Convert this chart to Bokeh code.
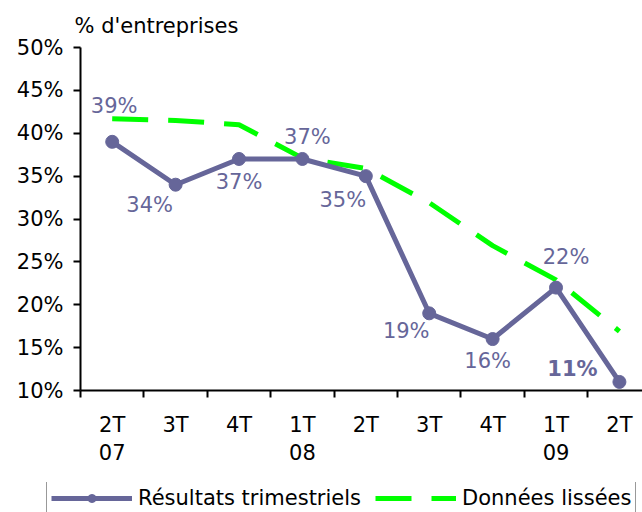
from bokeh.plotting import figure
from bokeh.layouts import column
from bokeh.models import (ColumnDataSource, Range1d, FixedTicker,
                          PrintfTickFormatter, Legend, LegendItem)
from bokeh.core.properties import value
from bokeh.embed import file_html
from bokeh.resources import INLINE

# Quarterly share of firms, and the smoothed series
quarters = ["2T\n07", "3T", "4T", "1T\n08", "2T", "3T", "4T", "1T\n09", "2T"]
results = [39, 34, 37, 37, 35, 19, 16, 22, 11]
smoothed = [41.7, 41.5, 41.0, 37.1, 35.9, 31.9, 26.9, 22.9, 16.9]
y_ticks = [10, 15, 20, 25, 30, 35, 40, 45, 50]

# where each value label sits relative to its point, in pixels
label_dx = [2, -26, 0, 5, -23, -23, -5, 10, -47]
label_dy = [-36, 20, 23, -22, 24, 18, 22, -31, -13]
label_style = ["normal"] * 8 + ["bold"]

FONT = "DejaVu Sans"
PURPLE = "#666699"
GREEN = "#00ff00"

xs = list(range(len(quarters)))
src = ColumnDataSource(dict(
    x=xs, res=results, smo=smoothed,
    lab=[f"{v}%" for v in results],
    dx=label_dx, dy=label_dy, st=label_style,
))

p = figure(width=642, height=482, output_backend="svg", toolbar_location=None,
           x_range=Range1d(-0.5, 8.364), y_range=Range1d(10, 50),
           min_border_left=80, min_border_right=0, min_border_top=47,
           min_border_bottom=92)
p.outline_line_color = None
p.grid.visible = False
p.background_fill_color = "white"
p.border_fill_color = "white"
p.frame_align = False

p.title.text = "% d'entreprises"
p.title.text_font = FONT
p.title.text_font_size = "21px"
p.title.text_font_style = "normal"
p.title.text_color = "black"
p.title.align = "left"
p.title.offset = -6
p.title.standoff = 19


def draw_series(fig):
    s = fig.line("x", "smo", source=src, line_color=GREEN, line_width=5,
                 line_dash="36 20")
    r = fig.line("x", "res", source=src, line_color=PURPLE, line_width=5)
    d = fig.scatter("x", "res", source=src, size=13, fill_color=PURPLE,
                    line_color=PURPLE)
    return s, r, d


draw_series(p)

p.text("x", "res", text="lab", source=src, x_offset="dx", y_offset="dy",
       text_font=value(FONT), text_font_size="21px", text_font_style="st",
       text_color=PURPLE, text_align="center", text_baseline="middle")

# y axis
ya = p.yaxis[0]
ya.ticker = FixedTicker(ticks=y_ticks)
ya.formatter = PrintfTickFormatter(format="%d%%")
ya.axis_line_width = 2
ya.major_tick_line_width = 2
ya.major_tick_in = 0
ya.major_tick_out = 7
ya.minor_tick_line_color = None
ya.major_label_standoff = 10
ya.major_label_text_font = FONT
ya.major_label_text_font_size = "21px"
ya.major_label_text_color = "black"

# x axis: labels centred on quarters, tick marks between them
xa = p.xaxis[0]
xa.ticker = FixedTicker(ticks=xs, minor_ticks=[i - 0.5 for i in range(len(quarters) + 1)])
xa.major_label_overrides = {i: q for i, q in enumerate(quarters)}
xa.axis_line_width = 2
xa.major_tick_line_color = None
xa.major_tick_in = 0
xa.major_tick_out = 0
xa.minor_tick_line_color = "black"
xa.minor_tick_line_width = 2
xa.minor_tick_in = 0
xa.minor_tick_out = 7
xa.major_label_standoff = 15
xa.major_label_text_font = FONT
xa.major_label_text_font_size = "21px"
xa.major_label_text_color = "black"
xa.major_label_text_line_height = 1.2

# legend strip underneath the chart; its series sit outside the visible range
leg = figure(width=642, height=30, output_backend="svg", toolbar_location=None,
             x_range=Range1d(100, 101), y_range=Range1d(100, 101),
             x_axis_type=None, y_axis_type=None,
             min_border=0)
leg.outline_line_color = None
leg.grid.visible = False
leg.background_fill_color = "white"
leg.border_fill_color = "white"
leg.frame_align = False
smo_r, res_r, dot_r = draw_series(leg)

legend = Legend(items=[
    LegendItem(label="Résultats trimestriels", renderers=[res_r, dot_r]),
    LegendItem(label="Données lissées", renderers=[smo_r]),
], orientation="horizontal", location=(46, -3))
legend.label_text_font = FONT
legend.label_text_font_size = "21px"
legend.label_text_color = "black"
legend.glyph_width = 81
legend.glyph_height = 20
legend.label_height = 20
legend.label_standoff = 6
legend.spacing = 14
legend.padding = 4
legend.margin = 0
legend.border_line_color = "#333333"
legend.border_line_width = 1
legend.background_fill_color = "white"
legend.background_fill_alpha = 1
leg.add_layout(legend, "center")

open("out.html", "w").write(file_html(column(p, leg), INLINE))
